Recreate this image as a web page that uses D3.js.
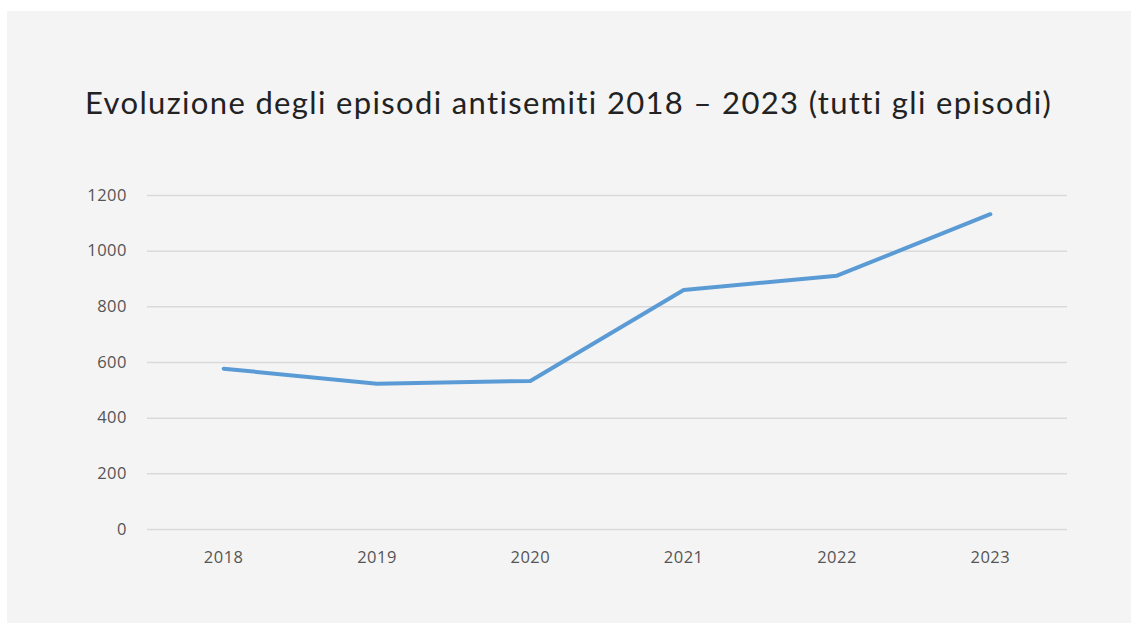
<!DOCTYPE html>
<html lang="en">
<head>
<meta charset="UTF-8">
<script src="https://cdn.jsdelivr.net/npm/d3@7"></script>
<style>
body { margin: 0; background: #fff; }
.tick text { font-family: "Open Sans", sans-serif; font-size: 16.5px; fill: #555; letter-spacing: 0.5px; }
</style>
</head>
<body>
<div id="chart"></div>
<script>
const years = ["2018", "2019", "2020", "2021", "2022", "2023"];
const episodes = [576, 522, 532, 859, 910, 1131];
const yTicks = [0, 200, 400, 600, 800, 1000, 1200];

const W = 1131, H = 623;
const margin = {top: 195, right: 64, bottom: 94, left: 147};

const svg = d3.select("#chart").append("svg")
    .attr("width", W)
    .attr("height", H);

// gray panel
svg.append("rect")
    .attr("x", 7).attr("y", 11)
    .attr("width", W - 7).attr("height", H - 11)
    .attr("fill", "#f4f4f4");

svg.append("text")
    .attr("x", 85)
    .attr("y", 114)
    .attr("font-family", "Lato, sans-serif")
    .attr("font-size", 31)
    .attr("letter-spacing", 1.35)
    .attr("fill", "#222")
    .text("Evoluzione degli episodi antisemiti 2018 – 2023 (tutti gli episodi)");

const x = d3.scaleBand()
    .domain(years)
    .range([margin.left, W - margin.right]);

const y = d3.scaleLinear()
    .domain([0, 1200])
    .range([H - margin.bottom, margin.top]);

// gridlines + y labels
const yAxis = svg.append("g")
    .attr("transform", `translate(${margin.left},0)`)
    .call(d3.axisLeft(y).tickValues(yTicks)
        .tickFormat(d3.format("d"))
        .tickSize(-(W - margin.right - margin.left))
        .tickPadding(20));
yAxis.select(".domain").remove();
yAxis.selectAll(".tick line").attr("stroke", "#d9d9d9").attr("stroke-width", 1.5);

const xAxis = svg.append("g")
    .attr("transform", `translate(0,${H - margin.bottom})`)
    .call(d3.axisBottom(x).tickSize(0).tickPadding(22));
xAxis.select(".domain").remove();

const line = d3.line()
    .x((d, i) => x(years[i]) + x.bandwidth() / 2)
    .y(d => y(d));

svg.append("path")
    .datum(episodes)
    .attr("d", line)
    .attr("fill", "none")
    .attr("stroke", "#5b9bd5")
    .attr("stroke-width", 4)
    .attr("stroke-linecap", "round")
    .attr("stroke-linejoin", "round");
</script>
</body>
</html>
